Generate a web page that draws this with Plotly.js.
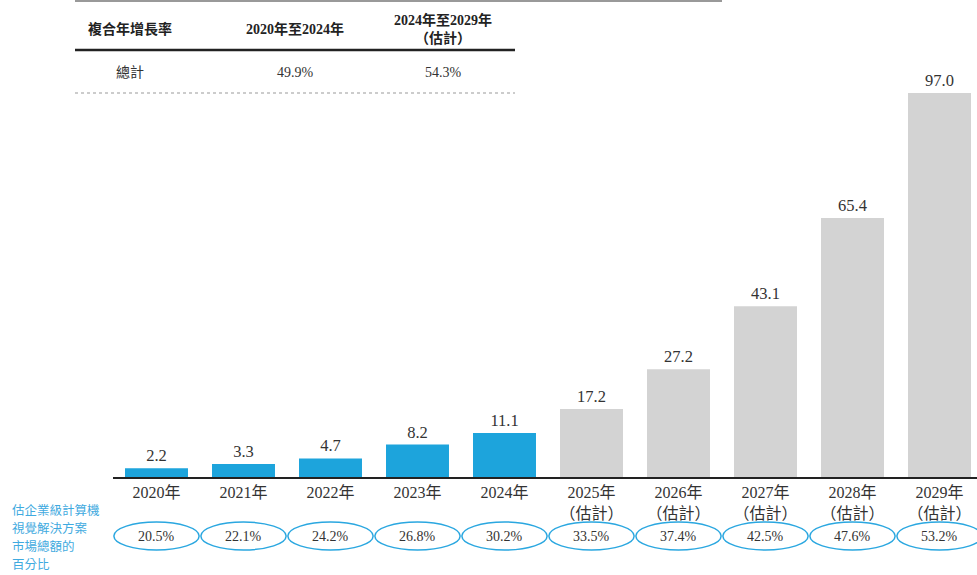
<!DOCTYPE html>
<html><head><meta charset="utf-8">
<script src="https://cdn.plot.ly/plotly-3.0.1.min.js"></script>
<style>html,body{margin:0;padding:0;background:#fff}#c{width:977px;height:575px}</style>
</head><body><div id="c"></div>
<script>
const years = ['2020年','2021年','2022年','2023年','2024年','2025年','2026年','2027年','2028年','2029年'];
const estimated = [false,false,false,false,false,true,true,true,true,true];
const values = [2.2,3.3,4.7,8.2,11.1,17.2,27.2,43.1,65.4,97.0];
const shares = ['20.5%','22.1%','24.2%','26.8%','30.2%','33.5%','37.4%','42.5%','47.6%','53.2%'];
const cagrHeader = ['複合年增長率','2020年至2024年','2024年至2029年<br>（估計）'];
const cagrRow = ['總計','49.9%','54.3%'];
const shareLabel = ['估企業級計算機','視覺解決方案','市場總額的','百分比'];

const FONT = 'Liberation Serif, Times New Roman, Noto Sans CJK TC, serif';
const BLUE = '#1DA4DC', GREY = '#D3D3D3', RING = '#2AA7E0';

const tickText = years.map((y,i)=> estimated[i] ? y + '<br>（估計）' : y);

const trace = {
  type:'bar', x: years.map((_,i)=>i), y: values,
  marker:{color: estimated.map(e=> e?GREY:BLUE)},
  text: values.map(v=>v.toFixed(1)), textposition:'outside', cliponaxis:false,
  textfont:{family:FONT, size:16.5, color:'#333'},
  hoverinfo:'skip'
};

const W = 864, H = 396, L = 113, T = 81;
const px = x => (x - L)/W;
const py = y => (T + H - y)/H;

const annotations = [];
const shapes = [];

// table
const colX = [130, 295, 443];
cagrHeader.forEach((t,i)=>annotations.push({xref:'paper',yref:'paper',x:px(colX[i]),y:py(29),text:'<b>'+t+'</b>',showarrow:false,font:{family:FONT,size:14,color:'#222'},xanchor:'center',yanchor:'middle'}));
cagrRow.forEach((t,i)=>annotations.push({xref:'paper',yref:'paper',x:px(colX[i]),y:py(72),text:t,showarrow:false,font:{family:FONT,size:14,color:'#333'},xanchor:'center',yanchor:'middle'}));
shapes.push({type:'line',xref:'paper',yref:'paper',x0:px(75),x1:px(722),y0:py(1),y1:py(1),line:{color:'#999',width:2}});
shapes.push({type:'line',xref:'paper',yref:'paper',x0:px(75),x1:px(515),y0:py(50),y1:py(50),line:{color:'#222',width:2.5}});
shapes.push({type:'line',xref:'paper',yref:'paper',x0:px(75),x1:px(515),y0:py(93),y1:py(93),line:{color:'#999',width:1,dash:'dot'}});

// share ellipses
shares.forEach((s,i)=>{
  shapes.push({type:'circle',xref:'x',yref:'paper',x0:i-0.49,x1:i+0.49,y0:py(550),y1:py(522),line:{color:RING,width:1.5}});
  annotations.push({xref:'x',yref:'paper',x:i,y:py(536),text:s,showarrow:false,font:{family:FONT,size:14,color:'#333'},xanchor:'center',yanchor:'middle'});
});
shareLabel.forEach((t,i)=>annotations.push({xref:'paper',yref:'paper',x:px(10),y:py(509+18.2*i),text:t,showarrow:false,
  font:{family:'Noto Sans CJK TC, serif',size:12.5,color:'#3FAAE0'},xanchor:'left',yanchor:'middle'}));

const layout = {
  width:977, height:575,
  margin:{l:L, r:0, t:T, b:575-T-H},
  paper_bgcolor:'#fff', plot_bgcolor:'#fff',
  showlegend:false, bargap:0.276,
  xaxis:{range:[-0.5, -0.5 + W/87], tickmode:'array', tickvals:years.map((_,i)=>i), ticktext:tickText,
         showline:true, linecolor:'#222', linewidth:1.5, ticks:'', showgrid:false, zeroline:false,
         tickfont:{family:FONT,size:16,color:'#333'}, fixedrange:true},
  yaxis:{range:[0,100], visible:false, fixedrange:true},
  annotations, shapes
};
Plotly.newPlot('c',[trace],layout,{displayModeBar:false,staticPlot:true});
</script></body></html>
